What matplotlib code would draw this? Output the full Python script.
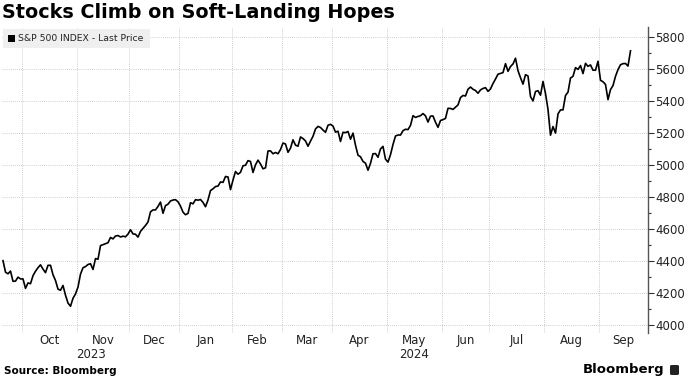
import matplotlib
matplotlib.use('Agg')
import matplotlib.pyplot as plt
from matplotlib.patches import FancyBboxPatch, Rectangle
import numpy as np
import pandas as pd

plt.rcParams['font.family'] = ['DejaVu Sans']

# S&P 500 daily closes, one list per month (trading days only)
sep_2023 = [4402, 4330, 4320, 4337, 4273, 4274, 4299, 4288]
oct_2023 = [4288, 4229, 4263, 4258, 4308, 4336, 4358, 4376, 4349, 4327, 4373,
            4373, 4314, 4278, 4224, 4217, 4247, 4186, 4137, 4117, 4167, 4194]
nov_2023 = [4237, 4318, 4358, 4365, 4378, 4383, 4347, 4415, 4411, 4496, 4502,
            4508, 4514, 4547, 4538, 4556, 4559, 4550, 4555, 4551, 4568]
dec_2023 = [4595, 4569, 4567, 4549, 4585, 4604, 4622, 4644, 4707, 4719, 4719,
            4741, 4768, 4698, 4746, 4755, 4775, 4781, 4783, 4770]
jan_2024 = [4743, 4705, 4689, 4697, 4764, 4757, 4783, 4780, 4784, 4766, 4739,
            4781, 4840, 4851, 4865, 4868, 4894, 4891, 4928, 4925, 4846]
feb_2024 = [4906, 4959, 4942, 4954, 4995, 4998, 5027, 5022, 4953, 5001, 5030,
            5006, 4976, 4982, 5087, 5088, 5070, 5078, 5070, 5096]
mar_2024 = [5137, 5131, 5079, 5105, 5157, 5124, 5117, 5175, 5165, 5150, 5117,
            5149, 5179, 5225, 5241, 5234, 5218, 5204, 5248, 5254]
apr_2024 = [5243, 5205, 5211, 5147, 5204, 5202, 5209, 5161, 5199, 5123, 5061,
            5051, 5022, 5011, 4967, 5010, 5070, 5071, 5048, 5100, 5116, 5036]
may_2024 = [5018, 5064, 5128, 5181, 5187, 5187, 5214, 5223, 5221, 5247, 5308,
            5297, 5303, 5308, 5321, 5307, 5268, 5305, 5306, 5267, 5235, 5278]
jun_2024 = [5283, 5291, 5354, 5353, 5347, 5361, 5375, 5421, 5434, 5431, 5473,
            5487, 5473, 5465, 5448, 5469, 5478, 5483, 5460]
jul_2024 = [5475, 5509, 5537, 5567, 5572, 5577, 5633, 5585, 5615, 5631, 5667,
            5589, 5545, 5505, 5564, 5556, 5427, 5400, 5459, 5464, 5436, 5522]
aug_2024 = [5446, 5347, 5186, 5240, 5199, 5319, 5344, 5344, 5434, 5455, 5543,
            5554, 5608, 5597, 5621, 5571, 5635, 5616, 5625, 5592, 5592, 5648]
sep_2024 = [5529, 5520, 5503, 5408, 5471, 5496, 5554, 5596, 5626, 5633, 5634,
            5618, 5713]

holidays = ['2023-11-23', '2023-12-25', '2024-01-01', '2024-01-15', '2024-02-19',
            '2024-03-29', '2024-05-27', '2024-06-19', '2024-07-04', '2024-09-02']
y_ticks = [4000, 4200, 4400, 4600, 4800, 5000, 5200, 5400, 5600, 5800]

prices = np.array(sep_2023 + oct_2023 + nov_2023 + dec_2023 + jan_2024 + feb_2024
                  + mar_2024 + apr_2024 + may_2024 + jun_2024 + jul_2024
                  + aug_2024 + sep_2024, dtype=float)
dates = pd.bdate_range('2023-09-20', '2024-09-19')
dates = dates[~dates.isin(pd.to_datetime(holidays))]
assert len(dates) == len(prices)
x = np.arange(len(prices))

W, H = 690, 381
fig = plt.figure(figsize=(W / 100, H / 100), dpi=100)
ax_l, ax_r, ax_t, ax_b = 2, 648, 27, 333
ax = fig.add_axes([ax_l / W, 1 - ax_b / H, (ax_r - ax_l) / W, (ax_b - ax_t) / H])

ax.plot(x, prices, color='black', lw=1.2, zorder=3)

# axis ranges (trading day index, 2.5 px per day)
xmin = -0.4
xmax = xmin + (ax_r - ax_l) / 2.5
ax.set_xlim(xmin, xmax)
ax.set_ylim(3950, 5862)

for s in ['left', 'top', 'bottom']:
    ax.spines[s].set_visible(False)
ax.spines['right'].set_color('#555555')
ax.spines['right'].set_linewidth(1.0)

ax.yaxis.tick_right()
ax.set_yticks(y_ticks)
ax.set_yticklabels([str(v) for v in y_ticks])
ax.set_yticks(np.arange(4100, 5862, 200), minor=True)
ax.tick_params(axis='y', which='major', length=4, width=0.8, color='#333333',
               labelsize=8.5, labelcolor='#222222', pad=1)
ax.tick_params(axis='y', which='minor', length=2.5, width=0.8, color='#333333')
ax.set_xticks([])
ax.grid(axis='y', which='major', color='#bdbdbd', lw=0.6, ls=(0, (1, 1.5)))

# month boundaries and labels
months = dates.to_period('M')
starts = [i for i in range(1, len(dates)) if months[i] != months[i - 1]]
bounds = [i - 0.5 for i in starts]
for b in bounds:
    ax.axvline(b, color='#bdbdbd', lw=0.6, ls=(0, (1, 1.5)), zorder=1)

# blended transform: x in data, y in figure fraction
import matplotlib.transforms as mtrans
xfig = mtrans.blended_transform_factory(ax.transData, fig.transFigure)

edges = bounds + [xmax]
for i in range(len(bounds)):
    mid = (edges[i] + edges[i + 1]) / 2
    ax.text(mid, 1 - 334 / H, dates[starts[i]].strftime('%b'), transform=xfig,
            ha='center', va='top', fontsize=8.5, color='#222222')

# year labels centered over each year's span
jan_b = bounds[[dates[s].year for s in starts].index(2024)]
for yr, (a, b) in [(2023, (xmin, jan_b)), (2024, (jan_b, xmax))]:
    ax.text((a + b) / 2, 1 - 348 / H, str(yr), transform=xfig,
            ha='center', va='top', fontsize=8.5, color='#222222')

# legend box
fig.patches.append(Rectangle((3 / W, 1 - 48 / H), 147 / W, 19 / H, transform=fig.transFigure,
                             facecolor='#efefef', edgecolor='none', zorder=5))
fig.patches.append(Rectangle((8 / W, 1 - 42 / H), 7 / W, 7 / H, transform=fig.transFigure,
                             facecolor='black', edgecolor='none', zorder=6))
fig.text(18 / W, 1 - 38.5 / H, 'S&P 500 INDEX - Last Price', fontsize=6.7,
         color='#222222', va='center', ha='left', zorder=7)

# title and footer
fig.text(2 / W, 1 - 3 / H, 'Stocks Climb on Soft-Landing Hopes', fontsize=13.8,
         fontweight='bold', va='top', ha='left', color='black')
fig.text(4 / W, 1 - 371 / H, 'Source: Bloomberg', fontsize=7.5, fontweight='bold',
         va='center', ha='left', color='black')
fig.text(664 / W, 1 - 370 / H, 'Bloomberg', fontsize=9.5, fontweight='bold',
         va='center', ha='right', color='black')
fig.patches.append(FancyBboxPatch((670 / W, 1 - 375 / H), 9 / W, 10 / H,
                                  boxstyle='round,pad=0,rounding_size=0.003',
                                  transform=fig.transFigure, facecolor='#222222',
                                  edgecolor='none'))

fig.savefig('out.png', dpi=100)
